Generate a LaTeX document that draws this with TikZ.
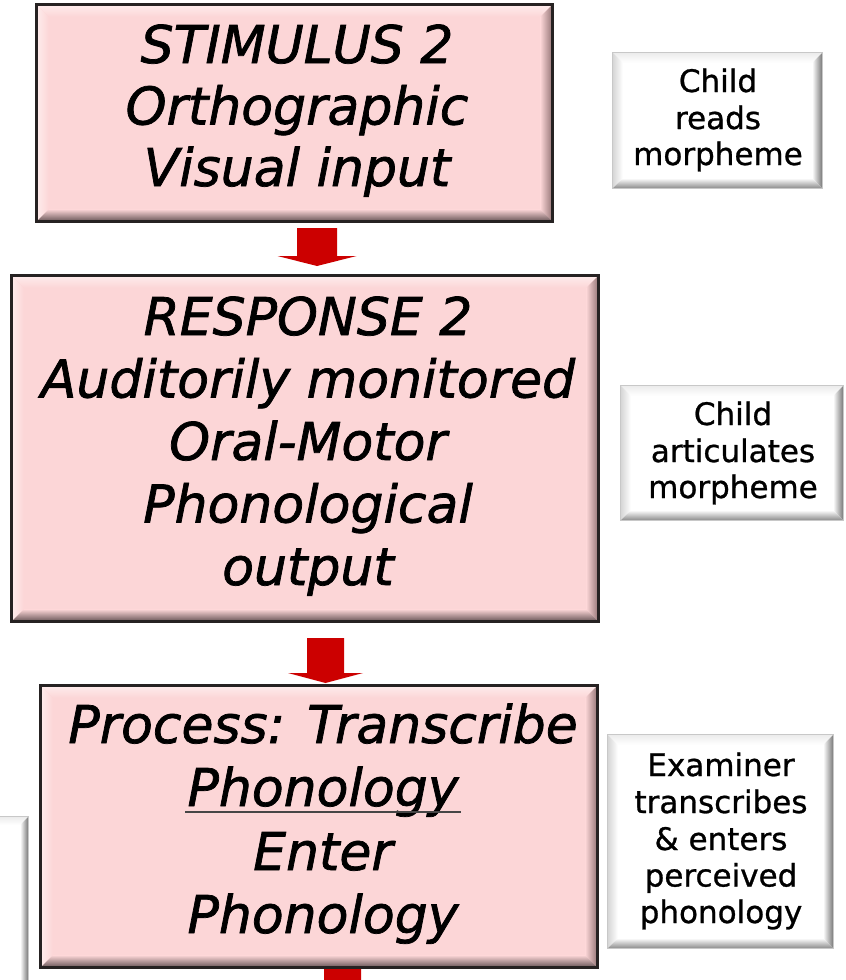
\documentclass[tikz,border=0pt]{standalone}
\usepackage{fontspec}
\setmainfont{DejaVu Sans}
\newfontfamily\boxitfont{DejaVu Sans Oblique}[FakeBold=1.4]
\newfontfamily\notefont{DejaVu Sans}[FakeBold=0.9]
\usetikzlibrary{calc}

\definecolor{boxpink}{RGB}{252,214,215}
\definecolor{pinklight}{RGB}{254,236,236}
\definecolor{pinkdark}{RGB}{150,118,120}
\definecolor{pinkdeep}{RGB}{105,86,88}
\definecolor{pinkedge}{RGB}{38,34,34}
\definecolor{sidelight}{RGB}{236,236,236}
\definecolor{sideleft}{RGB}{214,214,214}
\definecolor{sidedark}{RGB}{120,120,120}
\definecolor{sidedeep}{RGB}{140,140,140}
\definecolor{sideedge}{RGB}{200,200,200}
\definecolor{arrowred}{RGB}{204,0,0}
\definecolor{ulgray}{RGB}{70,70,70}

% four bevel strips inside a rectangular node:
% #1 node, #2 strip width, #3 face colour, #4 top, #5 left, #6 right, #7 bottom
\newcommand\bevelstrips[7]{%
  \shade[top color=#4, bottom color=#3] (#1.north west) -- (#1.north east)
    -- ($(#1.north east)+(-#2,#2)$) -- ($(#1.north west)+(#2,#2)$) -- cycle;
  \shade[left color=#5, right color=#3] (#1.north west) -- ($(#1.north west)+(#2,#2)$)
    -- ($(#1.south west)+(#2,-#2)$) -- (#1.south west) -- cycle;
  \shade[left color=#3, right color=#6] (#1.north east) -- ($(#1.north east)+(-#2,#2)$)
    -- ($(#1.south east)+(-#2,-#2)$) -- (#1.south east) -- cycle;
  \shade[top color=#3, bottom color=#7] (#1.south west) -- ($(#1.south west)+(#2,-#2)$)
    -- ($(#1.south east)+(-#2,-#2)$) -- (#1.south east) -- cycle;
}

% downward block arrow from #1 (top of shaft) to #2 (tip)
% #3 half shaft width, #4 half head width, #5 head length
\newcommand\blockarrow[5]{%
  \fill[arrowred] ($(#1)+(-#3,0)$) -- ($(#1)+(#3,0)$) -- ($(#2)+(#3,-#5)$)
    -- ($(#2)+(#4,-#5)$) -- (#2) -- ($(#2)+(-#4,-#5)$) -- ($(#2)+(-#3,-#5)$) -- cycle;
}

\begin{document}
\begin{tikzpicture}[x=1pt,y=-1pt,
  pinkbox/.style={fill=boxpink, inner sep=0pt},
  sidebox/.style={fill=white, inner sep=0pt},
  pinkborder/.style={draw=pinkedge, line width=3.2pt},
  sideborder/.style={draw=sideedge, line width=0.8pt},
  maintext/.style={font=\boxitfont\fontsize{52}{62}\selectfont, inner sep=0pt, anchor=base},
  sidetext/.style={font=\notefont\fontsize{31}{37}\selectfont, inner sep=0pt, anchor=base}]

\useasboundingbox (0,0) rectangle (846,980);
\fill[white] (0,0) rectangle (846,980);

% ---- main pink boxes ----
\node[pinkbox, minimum width=515pt, minimum height=216pt] (stim) at (294.5,113) {};
\bevelstrips{stim}{12}{boxpink}{pinklight}{pinklight}{pinkdark}{pinkdeep}
\draw[pinkborder] (stim.north west) rectangle (stim.south east);

\node[pinkbox, minimum width=586pt, minimum height=345pt] (resp) at (305,448.5) {};
\bevelstrips{resp}{12}{boxpink}{pinklight}{pinklight}{pinkdark}{pinkdeep}
\draw[pinkborder] (resp.north west) rectangle (resp.south east);

\node[pinkbox, minimum width=556pt, minimum height=281pt] (proc) at (319,826.5) {};
\bevelstrips{proc}{12}{boxpink}{pinklight}{pinklight}{pinkdark}{pinkdeep}
\draw[pinkborder] (proc.north west) rectangle (proc.south east);

% ---- side note boxes ----
\node[sidebox, minimum width=209pt, minimum height=135pt] (readbox) at (717.5,120.5) {};
\bevelstrips{readbox}{10}{white}{sidelight}{sideleft}{sidedark}{sidedeep}
\draw[sideborder] (readbox.north west) rectangle (readbox.south east);

\node[sidebox, minimum width=222pt, minimum height=134pt] (artbox) at (732,453) {};
\bevelstrips{artbox}{10}{white}{sidelight}{sideleft}{sidedark}{sidedeep}
\draw[sideborder] (artbox.north west) rectangle (artbox.south east);

\node[sidebox, minimum width=225pt, minimum height=213pt] (exambox) at (720.5,841.5) {};
\bevelstrips{exambox}{10}{white}{sidelight}{sideleft}{sidedark}{sidedeep}
\draw[sideborder] (exambox.north west) rectangle (exambox.south east);

\node[sidebox, minimum width=60pt, minimum height=200pt] (leftbox) at (-2,917) {};
\bevelstrips{leftbox}{8}{white}{sidelight}{sideleft}{sidedark}{sidedeep}
\draw[sideborder] (leftbox.north west) rectangle (leftbox.south east);

% ---- block arrows ----
\coordinate (a1s) at (317,228);   \coordinate (a1e) at (317,266);
\coordinate (a2s) at (325.5,638); \coordinate (a2e) at (325.5,683);
\coordinate (a3s) at (342.5,969); \coordinate (a3e) at (342.5,1012);
\blockarrow{a1s}{a1e}{20}{39.5}{10}
\blockarrow{a2s}{a2e}{18.5}{37.5}{10}
\blockarrow{a3s}{a3e}{18.5}{37.5}{10}

% ---- main texts ----
\node[maintext] (t1a) at (297,63)  {STIMULUS 2};
\node[maintext] (t1b) at (297,124.5) {Orthographic};
\node[maintext] (t1c) at (297,186) {Visual input};

\node[maintext] (t2a) at (308,335) {RESPONSE 2};
\node[maintext] (t2b) at (308,397.5) {Auditorily monitored};
\node[maintext] (t2c) at (308,460) {Oral-Motor};
\node[maintext] (t2d) at (308,522.5) {Phonological};
\node[maintext] (t2e) at (308,585) {output};

\node[maintext] (t3a) at (323,743) {Process: Transcribe};
\node[maintext] (t3b) at (323,806) {Phonology};
\node[maintext] (t3c) at (323,870) {Enter};
\node[maintext] (t3d) at (323,933) {Phonology};
\draw[line width=2.2pt, ulgray] ($(t3b.base west)+(-2,6)$) -- ($(t3b.base east)+(2,6)$);

% ---- side texts ----
\node[sidetext] (r1) at (718,92)  {Child};
\node[sidetext] (r2) at (718,129) {reads};
\node[sidetext] (r3) at (718,165) {morpheme};

\node[sidetext] (c1) at (733,425) {Child};
\node[sidetext] (c2) at (733,462) {articulates};
\node[sidetext] (c3) at (733,498) {morpheme};

\node[sidetext] (e1) at (721,776) {Examiner};
\node[sidetext] (e2) at (721,813) {transcribes};
\node[sidetext] (e3) at (721,850) {\& enters};
\node[sidetext] (e4) at (721,886.5) {perceived};
\node[sidetext] (e5) at (721,923) {phonology};
\end{tikzpicture}
\end{document}
